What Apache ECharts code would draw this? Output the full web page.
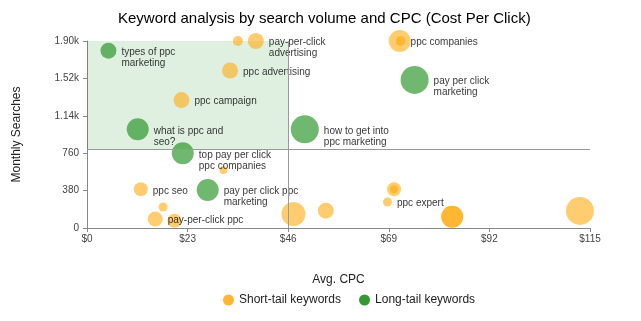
<!DOCTYPE html>
<html><head><meta charset="utf-8">
<script src="https://cdn.jsdelivr.net/npm/echarts@6/dist/echarts.min.js"></script>
<style>html,body{margin:0;padding:0;background:#fff}#c{width:641px;height:321px}</style>
</head><body><div id="c"></div>
<script>
// Short-tail keywords
const shortNames = ["", "pay-per-click\nadvertising", "ppc advertising", "ppc campaign", "", "ppc companies", "", "ppc seo", "", "pay-per-click ppc", "", "", "", "", "", "ppc expert", "", "", ""];
const shortCpc   = [34.5, 38.6, 32.7, 21.6, 71.5, 71.7, 31.2, 12.3, 17.4, 15.6, 20.0, 47.2, 54.6, 70.2, 70.2, 68.7, 83.5, 83.5, 112.7];
const shortVol   = [1900, 1900, 1600, 1300, 1900, 1900, 590, 393, 213, 91, 74, 142, 176, 393, 393, 264, 115, 115, 173];
const shortScore = [5, 8, 8, 8, 11, 5, 4, 7, 4.5, 7.5, 7, 12, 8, 7, 4, 4.5, 11, 11, 14];
// Long-tail keywords
const longNames = ["types of ppc\nmarketing", "what is ppc and\nseo?", "top pay per click\nppc companies", "pay per click ppc\nmarketing", "how to get into\nppc marketing", "pay per click\nmarketing"];
const longCpc   = [4.9, 11.6, 21.9, 27.6, 49.8, 74.9];
const longVol   = [1802, 1003, 759, 386, 1003, 1504];
const longScore = [8, 11, 11, 11, 14, 14];
// Axis ticks / reference lines
const xTicks = [0, 23, 46, 69, 92, 115];
const yTicks = [0, 380, 760, 1140, 1520, 1900];
const avgCpc = 46;
const avgVol = 800;

const FONT = '"Liberation Sans", Arial, sans-serif';
function build(names, cpc, vol, score) {
  return names.map((n, i) => ({ name: n, value: [cpc[i], vol[i], score[i]] }));
}
const labelCfg = {
  show: true, position: 'right', distance: 5, formatter: p => p.name,
  color: '#000', fontSize: 10, lineHeight: 11, fontFamily: FONT,
  verticalAlign: 'top', offset: [0, -4]
};
const chart = echarts.init(document.getElementById('c'), null, { renderer: 'canvas' });
chart.setOption({
  animation: false,
  title: {
    text: 'Keyword analysis by search volume and CPC (Cost Per Click)',
    left: 113, top: 6,
    textStyle: { fontSize: 15, fontWeight: 'normal', color: '#000', fontFamily: FONT }
  },
  legend: {
    data: [
      { name: 'Short-tail keywords', itemStyle: { color: '#FFA500' } },
      { name: 'Long-tail keywords', itemStyle: { color: '#008000' } }
    ],
    top: 289, left: 218, icon: 'circle', itemWidth: 11, itemHeight: 11, itemGap: 18,
    textStyle: { fontSize: 12, color: '#222', fontFamily: FONT }
  },
  grid: { left: 87, right: 51, top: 41, bottom: 93 },
  xAxis: {
    type: 'value', min: xTicks[0], max: xTicks[xTicks.length - 1], interval: xTicks[1] - xTicks[0],
    name: 'Avg. CPC', nameLocation: 'middle', nameGap: 46,
    nameTextStyle: { fontSize: 12, color: '#222', fontFamily: FONT },
    axisLine: { show: true, lineStyle: { color: '#888' } },
    axisTick: { show: true, length: 4, lineStyle: { color: '#888' } },
    splitLine: { show: false },
    axisLabel: { formatter: v => '$' + v, fontSize: 10, color: '#444', fontFamily: FONT, margin: 6 }
  },
  yAxis: {
    type: 'value', min: yTicks[0], max: yTicks[yTicks.length - 1], interval: yTicks[1] - yTicks[0],
    name: 'Monthly Searches', nameLocation: 'middle', nameGap: 64, nameRotate: 90,
    nameTextStyle: { fontSize: 12, color: '#222', fontFamily: FONT },
    axisLine: { show: true, lineStyle: { color: '#888' } },
    axisTick: { show: true, length: 4, lineStyle: { color: '#888' } },
    splitLine: { show: false },
    axisLabel: { formatter: v => v >= 1000 ? (v / 1000).toFixed(2) + 'k' : String(v), fontSize: 10, color: '#444', fontFamily: FONT, margin: 8 }
  },
  series: [
    {
      type: 'scatter', name: 'ref', data: [], z: 1, silent: true,
      markArea: {
        silent: true,
        itemStyle: { color: 'rgba(0,128,0,0.12)' },
        data: [[{ coord: [0, avgVol] }, { coord: [avgCpc, 1900] }]]
      },
      markLine: {
        silent: true, symbol: 'none', label: { show: false },
        lineStyle: { color: '#999', type: 'solid', width: 1 },
        data: [{ xAxis: avgCpc }, { yAxis: avgVol }]
      }
    },
    {
      type: 'scatter', name: 'Short-tail keywords', z: 2,
      data: build(shortNames, shortCpc, shortVol, shortScore),
      symbolSize: v => v[2] * 2,
      itemStyle: { color: 'rgba(255,165,0,0.7)' },
      label: labelCfg
    },
    {
      type: 'scatter', name: 'Long-tail keywords', z: 2,
      data: build(longNames, longCpc, longVol, longScore),
      symbolSize: v => v[2] * 2,
      itemStyle: { color: 'rgba(0,128,0,0.7)' },
      label: labelCfg
    }
  ]
});
</script></body></html>
